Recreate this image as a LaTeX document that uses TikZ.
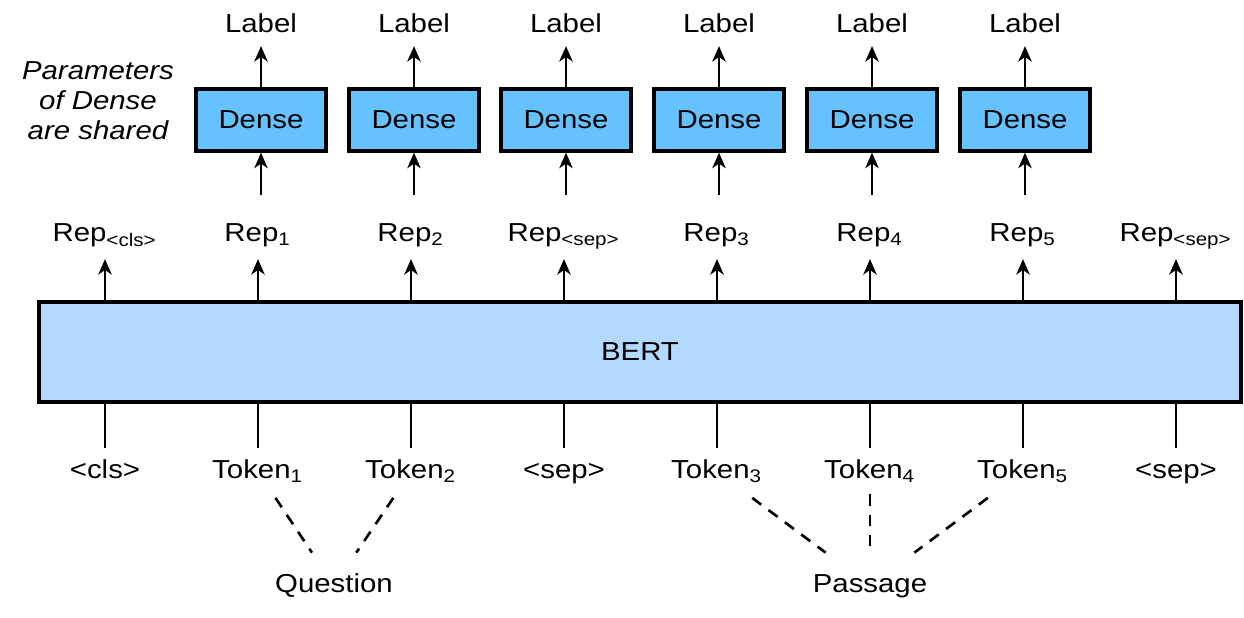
\documentclass[tikz,border=0pt]{standalone}
\usepackage{fontspec}
\setmainfont[FakeStretch=1.13]{Liberation Sans}
\usetikzlibrary{arrows.meta,calc}
\definecolor{denseblue}{RGB}{102,194,255}
\definecolor{bertblue}{RGB}{179,217,255}

\begin{document}
\begin{tikzpicture}[font=\fontsize{7.4}{8.5}\selectfont,
    txt/.style={anchor=base, text height=5.4pt, text depth=1.8pt, inner sep=3pt},
    lab/.style={txt, inner sep=2pt},
    dense/.style={draw, line width=0.95pt, fill=denseblue, minimum width=1.30cm, minimum height=0.62cm},
    uparrow/.style={-{Stealth[length=4.4pt,width=3.8pt,inset=1.3pt]}, line width=0.75pt},
    conn/.style={line width=0.75pt},
    dashline/.style={line width=0.75pt, dash pattern=on 3.2pt off 2.6pt}]
    \useasboundingbox (0,0) rectangle (12.44,6.17);

    \begin{scope}
        \node[align=center, font=\fontsize{7.4}{8.5}\selectfont\itshape] (note) at (0.98,5.16) {Parameters\\of Dense\\are shared};
        \node[lab] (l1) at (2.61,5.85) {Label};
        \node[lab] (l2) at (4.14,5.85) {Label};
        \node[lab] (l3) at (5.66,5.85) {Label};
        \node[lab] (l4) at (7.19,5.85) {Label};
        \node[lab] (l5) at (8.72,5.85) {Label};
        \node[lab] (l6) at (10.25,5.85) {Label};
        \node[dense] (d1) at (2.61,4.97) {Dense};
        \node[dense] (d2) at (4.14,4.97) {Dense};
        \node[dense] (d3) at (5.66,4.97) {Dense};
        \node[dense] (d4) at (7.19,4.97) {Dense};
        \node[dense] (d5) at (8.72,4.97) {Dense};
        \node[dense] (d6) at (10.25,4.97) {Dense};
    \end{scope}

    \begin{scope}
        \node[txt] (r0) at (1.05,3.755) {Rep\textsubscript{<cls>}};
        \node[txt] (r1) at (2.58,3.755) {Rep\textsubscript{1}};
        \node[txt] (r2) at (4.11,3.755) {Rep\textsubscript{2}};
        \node[txt] (r3) at (5.64,3.755) {Rep\textsubscript{<sep>}};
        \node[txt] (r4) at (7.17,3.755) {Rep\textsubscript{3}};
        \node[txt] (r5) at (8.70,3.755) {Rep\textsubscript{4}};
        \node[txt] (r6) at (10.23,3.755) {Rep\textsubscript{5}};
        \node[txt] (r7) at (11.76,3.755) {Rep\textsubscript{<sep>}};
        \node[draw, line width=0.95pt, fill=bertblue, minimum width=12.02cm, minimum height=1.0cm] (bert) at (6.40,2.65) {BERT};
        \node[txt] (t0) at (1.05,1.39) {<cls>};
        \node[txt] (t1) at (2.58,1.39) {Token\textsubscript{1}};
        \node[txt] (t2) at (4.11,1.39) {Token\textsubscript{2}};
        \node[txt] (t3) at (5.64,1.39) {<sep>};
        \node[txt] (t4) at (7.17,1.39) {Token\textsubscript{3}};
        \node[txt] (t5) at (8.70,1.39) {Token\textsubscript{4}};
        \node[txt] (t6) at (10.23,1.39) {Token\textsubscript{5}};
        \node[txt] (t7) at (11.76,1.39) {<sep>};
        \node[txt] (q) at (3.34,0.25) {Question};
        \node[txt] (p) at (8.70,0.25) {Passage};
    \end{scope}

    % dense layers
    \draw[uparrow] (d1) -- (l1);
    \draw[uparrow] (d2) -- (l2);
    \draw[uparrow] (d3) -- (l3);
    \draw[uparrow] (d4) -- (l4);
    \draw[uparrow] (d5) -- (l5);
    \draw[uparrow] (d6) -- (l6);
    \draw[uparrow, shorten <=4.5pt] (r1.north -| d1) -- (d1);
    \draw[uparrow, shorten <=4.5pt] (r2.north -| d2) -- (d2);
    \draw[uparrow, shorten <=4.5pt] (r4.north -| d3) -- (d3);
    \draw[uparrow, shorten <=4.5pt] (r5.north -| d4) -- (d4);
    \draw[uparrow, shorten <=4.5pt] (r6.north -| d5) -- (d5);
    \draw[uparrow, shorten <=4.5pt] (r6.north -| d6) -- (d6);

    % BERT in and out
    \draw[uparrow] (bert.north -| r0) -- (r0);
    \draw[uparrow] (bert.north -| r1) -- (r1);
    \draw[uparrow] (bert.north -| r2) -- (r2);
    \draw[uparrow] (bert.north -| r3) -- (r3);
    \draw[uparrow] (bert.north -| r4) -- (r4);
    \draw[uparrow] (bert.north -| r5) -- (r5);
    \draw[uparrow] (bert.north -| r6) -- (r6);
    \draw[uparrow] (bert.north -| r7) -- (r7);
    \draw[conn] (bert.south -| t0) -- (t0);
    \draw[conn] (bert.south -| t1) -- (t1);
    \draw[conn] (bert.south -| t2) -- (t2);
    \draw[conn] (bert.south -| t3) -- (t3);
    \draw[conn] (bert.south -| t4) -- (t4);
    \draw[conn] (bert.south -| t5) -- (t5);
    \draw[conn] (bert.south -| t6) -- (t6);
    \draw[conn] (bert.south -| t7) -- (t7);

    % segments
    \draw[dashline] ($(t1)!0.23!(q)$) -- ($(t1)!0.71!(q)$);
    \draw[dashline] ($(t2)!0.23!(q)$) -- ($(t2)!0.71!(q)$);
    \draw[dashline] ($(t4)!0.23!(p)$) -- ($(t4)!0.71!(p)$);
    \draw[dashline] ($(t5)!0.20!(p)$) -- ($(t5)!0.71!(p)$);
    \draw[dashline] ($(t6)!0.23!(p)$) -- ($(t6)!0.71!(p)$);
\end{tikzpicture}
\end{document}
